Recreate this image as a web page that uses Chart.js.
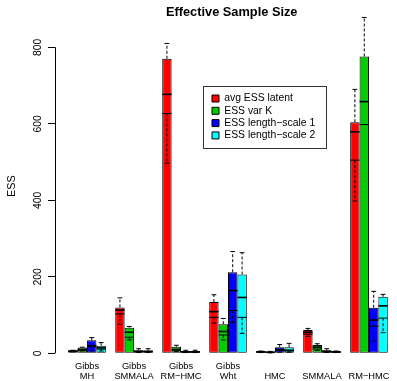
<!DOCTYPE html>
<html><head><meta charset="utf-8">
<script src="https://cdn.jsdelivr.net/npm/chart.js@4"></script>
<style>html,body{margin:0;padding:0;background:#fff;overflow:hidden}</style>
</head><body>
<canvas id="c" width="397" height="381"></canvas>
<script>
// ---- data ----
const categories = [["Gibbs","MH"],["Gibbs","SMMALA"],["Gibbs","RM\u2212HMC"],["Gibbs","Wht"],["","HMC"],["","SMMALA"],["","RM\u2212HMC"]];
const seriesNames = ["avg ESS latent","ESS var K","ESS length\u2212scale 1","ESS length\u2212scale 2"];
const yTicks = [0,200,400,600,800];

const latentBar    = [7, 120, 770, 134, 5, 61, 604];
const latentMedian = [6, 113, 677, 109, 4, 55, 579];
const latentQ1     = [5, 103, 627, 94, 3, 50, 505];
const latentMax    = [8, 145, 810, 153, 6, 65, 690];
const latentMin    = [4, 76, 497, 79, 2, 44, 398];

const varKBar    = [15, 67, 17, 76, 4, 22, 776];
const varKMedian = [10, 55, 10, 57, 3, 16, 658];
const varKQ1     = [8, 42, 8, 48, 2, 11, 598];
const varKMax    = [16, 70, 21, 91, 5, 25, 878];
const varKMin    = [6, 35, 5, 35, 1, 7, 598];

const ls1Bar    = [34, 8, 6, 212, 16, 8, 119];
const ls1Median = [20, 5, 4, 164, 10, 5, 87];
const ls1Q1     = [17, 4, 3, 112, 7, 4, 71];
const ls1Max    = [41, 12, 8, 266, 23, 12, 162];
const ls1Min    = [6, 2, 2, 80, 3, 2, 32];

const ls2Bar    = [20, 7, 6, 206, 16, 5, 148];
const ls2Median = [14, 5, 4, 146, 8, 4, 124];
const ls2Q1     = [11, 4, 3, 94, 6, 3, 92];
const ls2Max    = [28, 12, 8, 263, 26, 6, 154];
const ls2Min    = [6, 2, 2, 52, 3, 2, 54];

// ---- styling / assembly ----
const seriesColors = ["#FF0000","#00CD00","#0000FF","#00FFFF"];
const FAM = "'Liberation Sans', Arial, Helvetica, sans-serif";
const barSeries = [latentBar, varKBar, ls1Bar, ls2Bar];
const boxStats = [
  {med: latentMedian, q1: latentQ1, hi: latentMax, lo: latentMin},
  {med: varKMedian, q1: varKQ1, hi: varKMax, lo: varKMin},
  {med: ls1Median, q1: ls1Q1, hi: ls1Max, lo: ls1Min},
  {med: ls2Median, q1: ls2Q1, hi: ls2Max, lo: ls2Min}
];

const datasets = seriesNames.map((name, s) => ({
  label: name,
  data: barSeries[s].map((v, i) => ({x: i, y: v})),
  backgroundColor: seriesColors[s],
  borderColor: '#000',
  borderWidth: 1,
  borderSkipped: false,
  categoryPercentage: 0.8,
  barPercentage: 1.0
}));

const rPlugin = {
  id: 'rstyle',
  afterLayout(chart) {
    const lg = chart.legend;
    if (lg) {
      lg.left = 210.1; lg.top = 91.4;
      lg.right = lg.left + 118; lg.bottom = lg.top + 56;
    }
    const tb = chart.titleBlock;
    if (tb) { tb.left = 66.4; tb.right = 397; }
  },
  afterDatasetsDraw(chart) {
    const ctx = chart.ctx, ys = chart.scales.y;
    ctx.save();
    ctx.strokeStyle = '#000';
    boxStats.forEach((st, d) => {
      const meta = chart.getDatasetMeta(d);
      meta.data.forEach((bar, j) => {
        const xL = bar.x - bar.width / 2, xR = bar.x + bar.width / 2;
        const yTop = ys.getPixelForValue(barSeries[d][j]);
        const yMed = ys.getPixelForValue(st.med[j]);
        const yQ1 = ys.getPixelForValue(st.q1[j]);
        const yHi = ys.getPixelForValue(st.hi[j]);
        const yLo = ys.getPixelForValue(st.lo[j]);
        ctx.setLineDash([]);
        ctx.lineWidth = 1.6;
        ctx.beginPath(); ctx.moveTo(xL, yMed); ctx.lineTo(xR, yMed); ctx.stroke();
        ctx.lineWidth = 1;
        ctx.beginPath(); ctx.moveTo(xL, yQ1); ctx.lineTo(xR, yQ1); ctx.stroke();
        // whiskers
        ctx.setLineDash([3, 2]);
        ctx.beginPath(); ctx.moveTo(bar.x, yTop); ctx.lineTo(bar.x, yHi); ctx.stroke();
        ctx.beginPath(); ctx.moveTo(bar.x, yQ1); ctx.lineTo(bar.x, yLo); ctx.stroke();
        ctx.setLineDash([]);
        const cw = 2.4;
        ctx.beginPath(); ctx.moveTo(bar.x - cw, yHi); ctx.lineTo(bar.x + cw, yHi); ctx.stroke();
        ctx.beginPath(); ctx.moveTo(bar.x - cw, yLo); ctx.lineTo(bar.x + cw, yLo); ctx.stroke();
      });
    });
    ctx.restore();
  },
  afterDraw(chart) {
    const ctx = chart.ctx, ys = chart.scales.y;
    ctx.save();
    ctx.strokeStyle = '#000';
    ctx.lineWidth = 1;
    const x = Math.round(chart.chartArea.left) + 0.5;
    ctx.beginPath();
    ctx.moveTo(x, ys.getPixelForValue(yTicks[0]));
    ctx.lineTo(x, ys.getPixelForValue(yTicks[yTicks.length - 1]));
    ctx.stroke();
    ctx.strokeStyle = '#333';
    ctx.strokeRect(203.5, 86.5, 123, 62);
    ctx.restore();
  }
};

new Chart(document.getElementById('c'), {
  type: 'bar',
  data: { datasets },
  plugins: [rPlugin],
  options: {
    responsive: false,
    animation: false,
    devicePixelRatio: 1,
    layout: { padding: 0 },
    plugins: {
      tooltip: { enabled: false },
      title: {
        display: true, text: 'Effective Sample Size', color: '#000',
        font: { family: FAM, size: 12.8, weight: 'bold', lineHeight: 1.0 },
        padding: { top: 6.1, bottom: 0 }
      },
      legend: {
        position: 'chartArea', align: 'start',
        labels: { boxWidth: 7, boxHeight: 7, padding: 1.9, color: '#000', font: { family: FAM, size: 10.4 } }
      }
    },
    scales: {
      x: {
        type: 'linear', min: -0.682, max: 6.431, offset: false,
        grid: { display: false, drawTicks: false }, border: { display: false },
        afterBuildTicks: s => { s.ticks = categories.map((c, i) => ({ value: i })); },
        ticks: {
          autoSkip: false, maxRotation: 0, minRotation: 0, padding: 7.5, color: '#000',
          font: { family: FAM, size: 9.3, lineHeight: 1.15 },
          callback: (v, i) => categories[i]
        },
        afterFit: s => { s.height = 27.7; }
      },
      y: {
        type: 'linear', min: 0, max: 874.2,
        grid: { display: true, drawOnChartArea: false, drawTicks: true, tickLength: 7, color: '#000' },
        border: { display: false },
        afterBuildTicks: s => { s.ticks = yTicks.map(v => ({ value: v })); },
        ticks: {
          minRotation: 90, maxRotation: 90, crossAlign: 'center', padding: 1, color: '#000',
          font: { family: FAM, size: 10.4 }
        },
        title: { display: true, text: 'ESS', color: '#000', font: { family: FAM, size: 10.8 }, padding: { top: 5.3, bottom: 0 } },
        afterFit: s => { s.width = 55; }
      }
    }
  }
});
</script>
</body></html>
